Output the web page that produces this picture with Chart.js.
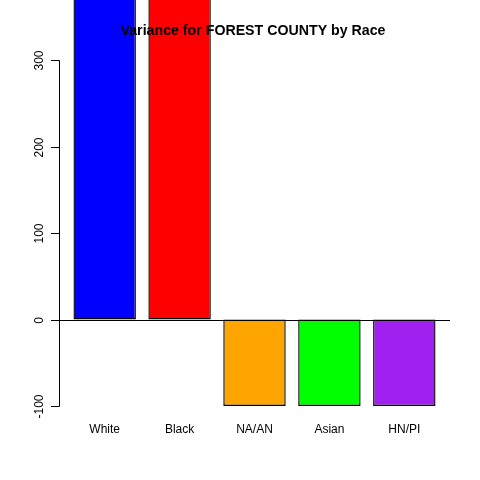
<!DOCTYPE html>
<html><head><meta charset="utf-8">
<script src="https://cdn.jsdelivr.net/npm/chart.js@4"></script>
<style>html,body{margin:0;padding:0;background:#fff}#c{display:block}</style>
</head><body>
<div style="width:480px;height:480px"><canvas id="c" width="480" height="480"></canvas></div>
<script>
const categories = ["White", "Black", "NA/AN", "Asian", "HN/PI"];
const values = [400, 400, -100, -100, -100];
const colors = ["#0000FF", "#FF0000", "#FFA500", "#00FF00", "#A020F0"];
const yTicks = [-100, 0, 100, 200, 300];
const title = "Variance for FOREST COUNTY by Race";
const FONT = "'Liberation Sans', Arial, sans-serif";

const centers = categories.map((_, i) => 0.7 + 1.2 * i);

const overlay = {
  id: 'overlay',
  afterDatasetsDraw(chart) {
    const ctx = chart.ctx, y = chart.scales.y, a = chart.chartArea;
    ctx.save();
    ctx.strokeStyle = '#000'; ctx.lineWidth = 1;
    const y0 = Math.round(y.getPixelForValue(0)) + 0.5;
    ctx.beginPath(); ctx.moveTo(a.left, y0); ctx.lineTo(a.right, y0); ctx.stroke();
    const top = Math.round(y.getPixelForValue(yTicks[yTicks.length - 1])) + 0.5;
    const bot = Math.round(y.getPixelForValue(yTicks[0])) + 0.5;
    const ax = 59.5;
    ctx.beginPath(); ctx.moveTo(ax, top); ctx.lineTo(ax, bot); ctx.stroke();
    ctx.fillStyle = '#000';
    ctx.font = '12px ' + FONT;
    ctx.textAlign = 'center'; ctx.textBaseline = 'alphabetic';
    yTicks.forEach(v => {
      const py = Math.round(y.getPixelForValue(v)) + 0.5;
      ctx.beginPath(); ctx.moveTo(51, py); ctx.lineTo(ax, py); ctx.stroke();
      ctx.save(); ctx.translate(43, py); ctx.rotate(-Math.PI / 2);
      ctx.fillText(String(v), 0, 0); ctx.restore();
    });
    ctx.font = 'bold 14.2px ' + FONT;
    ctx.textBaseline = 'middle';
    ctx.fillText(title, 253, 31);
    ctx.restore();
  }
};

new Chart(document.getElementById('c'), {
  type: 'bar',
  data: {
    datasets: [{
      data: values.map((v, i) => ({ x: centers[i], y: v })),
      backgroundColor: colors,
      borderColor: '#000',
      borderWidth: 1.4,
      borderSkipped: false,
      categoryPercentage: 1,
      barPercentage: 1 / 1.2
    }]
  },
  options: {
    responsive: false,
    animation: false,
    devicePixelRatio: 1,
    layout: { padding: { left: 59, right: 30, top: 0, bottom: 0 } },
    plugins: { legend: { display: false }, tooltip: { enabled: false }, title: { display: false } },
    scales: {
      x: {
        type: 'linear', min: -0.032, max: 6.232, offset: false,
        grid: { display: false, drawTicks: false, offset: false }, border: { display: false },
        afterBuildTicks(s) { s.ticks = centers.map(v => ({ value: v })); },
        afterFit(s) { s.height = 74; },
        ticks: {
          autoSkip: false, maxRotation: 0, padding: 16, color: '#000',
          font: { family: FONT, size: 12 },
          callback: (v, i) => categories[i]
        }
      },
      y: { display: false, min: -100, max: 369.4 }
    }
  },
  plugins: [overlay]
});
</script>
</body></html>
